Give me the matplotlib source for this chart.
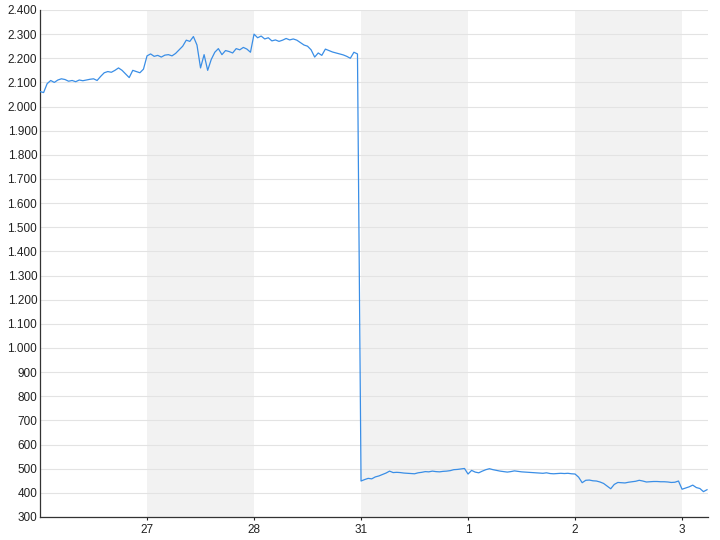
import matplotlib
matplotlib.use("Agg")
import matplotlib.pyplot as plt
import numpy as np

plt.rcParams['font.family'] = ['Liberation Sans', 'DejaVu Sans']

# trading days shown on the x axis (first one is unlabeled)
day_labels = ['', '27', '28', '31', '1', '2', '3']
points_per_day = 30

# intraday prices, one list per trading day (sampled evenly through the day)
day26 = [2062, 2058, 2095, 2108, 2100, 2110, 2115, 2112, 2105, 2108,
         2103, 2110, 2107, 2110, 2113, 2115, 2108, 2125, 2140, 2145,
         2142, 2150, 2160, 2150, 2135, 2120, 2150, 2145, 2140, 2155]
day27 = [2210, 2218, 2208, 2212, 2205, 2213, 2215, 2210, 2220, 2235,
         2250, 2275, 2270, 2290, 2255, 2160, 2215, 2150, 2195, 2225,
         2240, 2215, 2232, 2228, 2222, 2240, 2235, 2245, 2238, 2225]
day28 = [2300, 2285, 2292, 2280, 2285, 2272, 2276, 2270, 2275, 2282,
         2276, 2280, 2275, 2265, 2255, 2250, 2235, 2205, 2222, 2212,
         2238, 2232, 2226, 2222, 2218, 2214, 2208, 2200, 2225, 2218]
day31 = [449, 455, 460, 458, 466, 470, 476, 482, 490, 484,
         485, 484, 482, 481, 480, 479, 483, 485, 488, 487,
         490, 488, 487, 489, 490, 492, 496, 497, 499, 501]
day1 = [478, 493, 486, 483, 490, 496, 500, 496, 493, 490,
        488, 486, 488, 491, 489, 487, 486, 485, 484, 483,
        482, 481, 483, 480, 479, 480, 481, 480, 481, 479]
day2 = [478, 465, 442, 452, 453, 450, 449, 445, 439, 428,
        417, 435, 443, 442, 441, 444, 446, 448, 452, 449,
        445, 446, 447, 447, 446, 446, 445, 443, 444, 449]
day3 = [415, 420, 425, 432, 422, 418, 405, 413]

days = [day26, day27, day28, day31, day1, day2, day3]

x = []
y = []
for d, vals in enumerate(days):
    for i, v in enumerate(vals):
        x.append(d - 1 + i / points_per_day)
        y.append(v)

fig = plt.figure(figsize=(7.2, 5.4), dpi=100)
ax = fig.add_axes([0.0556, 0.0426, 0.9278, 0.9389])

# alternating shaded day bands
for d in range(len(days)):
    if d % 2 == 1:
        ax.axvspan(d - 1, d, color='#f2f2f2', lw=0, zorder=0)

ax.plot(x, y, color='#3a8ee6', lw=0.9, zorder=3)

ax.set_xlim(-1, 5.243)
ax.set_ylim(300, 2400)
ax.set_yticks(np.arange(300, 2401, 100))
ax.set_yticklabels(['{:,}'.format(v).replace(',', '.') for v in range(300, 2401, 100)])
ax.set_xticks(range(0, len(days) - 1))
ax.set_xticklabels(day_labels[1:])
ax.yaxis.grid(True, color='#e3e3e3', lw=0.8, zorder=1)
ax.set_axisbelow(True)

for s in ['top', 'right']:
    ax.spines[s].set_visible(False)
for s in ['left', 'bottom']:
    ax.spines[s].set_color('#333333')
    ax.spines[s].set_linewidth(0.9)
ax.tick_params(axis='y', length=0, pad=2, labelsize=8.5, colors='#222222')
ax.tick_params(axis='x', length=2, width=0.8, pad=3, labelsize=8.5, colors='#222222')

fig.savefig('out.png', dpi=100)
